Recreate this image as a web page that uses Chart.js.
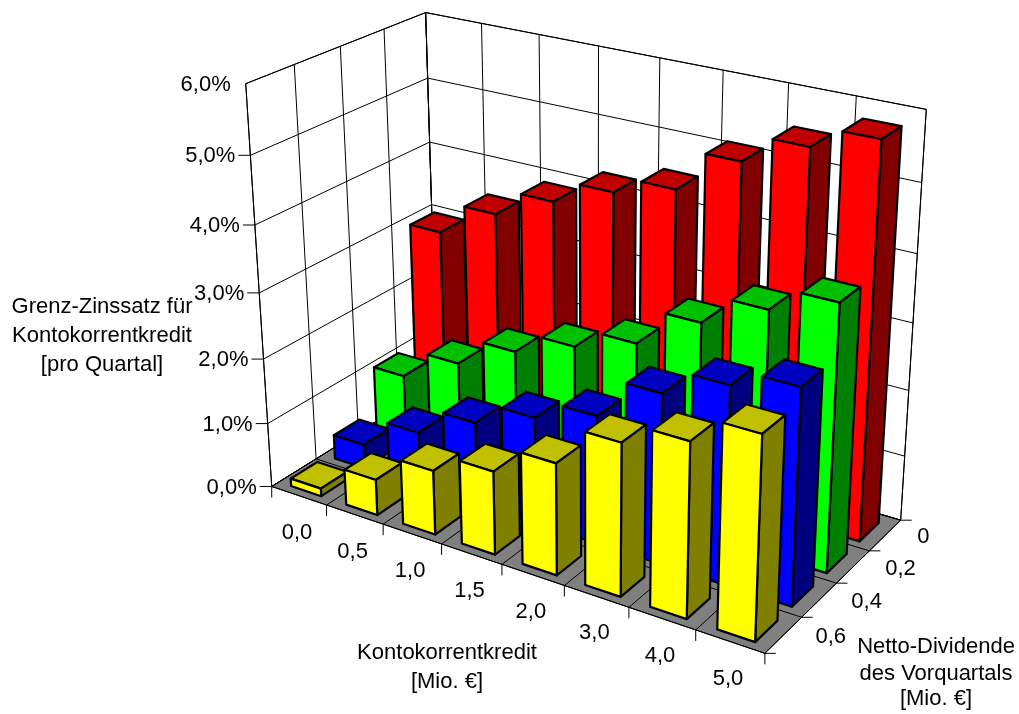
<!DOCTYPE html>
<html>
<head>
<meta charset="utf-8">
<title>Grenz-Zinssatz</title>
<script src="https://cdn.jsdelivr.net/npm/chart.js@4/dist/chart.umd.js"></script>
<style>
  html, body { margin: 0; padding: 0; background: #fff; }
  canvas { display: block; }
</style>
</head>
<body>
<canvas id="rateChart" width="1019" height="714"></canvas>
<script>
// Axis categories
const creditLabels = ['0,0', '0,5', '1,0', '1,5', '2,0', '3,0', '4,0', '5,0'];
const dividendLabels = ['0', '0,2', '0,4', '0,6'];
const rateTicks = [0, 1, 2, 3, 4, 5, 6];

// Marginal rate in percent, one row per dividend level
const rateDividend06 = [0.12, 0.55, 0.98, 1.26, 1.67, 2.25, 2.55, 2.93];
const rateDividend04 = [0.38, 0.85, 1.28, 1.63, 1.93, 2.53, 2.91, 3.15];
const rateDividend02 = [1.07, 1.53, 1.97, 2.3, 2.6, 3.15, 3.58, 3.92];
const rateDividend00 = [3.0, 3.5, 3.9, 4.25, 4.5, 5.1, 5.5, 5.8];

// Axis captions
const rateTitle = ['Grenz-Zinssatz für', 'Kontokorrentkredit', '[pro Quartal]'];
const creditTitle = ['Kontokorrentkredit', '[Mio. €]'];
const dividendTitle = ['Netto-Dividende', 'des Vorquartals', '[Mio. €]'];

// Camera: where known points of the unit box (u, v, w) land on the canvas
const cameraPoints = [
  [0, 0, 0, 271.7, 486], [1, 0, 0, 761, 653], [1, 1, 0, 900, 520.7],
  [0, 0, 1, 245.7, 84.3], [0, 1, 1, 425.7, 11.7], [1, 1, 1, 926, 109.3],
  [0, 1, 0.5, 432, 205], [0, 0, 0.5, 259.3, 293.3],
  [0.125, 0, 0, 326, 505], [1, 0.25, 0, 808, 617], [1, 0.75, 0, 868, 551]
];

// Least squares for the 3x4 projection matrix (last entry fixed to 1)
function solveCamera(points) {
  const n = 11;
  const A = Array.from({ length: n }, () => new Array(n + 1).fill(0));
  const addRow = (row, rhs) => {
    for (let i = 0; i < n; i++) {
      for (let j = 0; j < n; j++) A[i][j] += row[i] * row[j];
      A[i][n] += row[i] * rhs;
    }
  };
  points.forEach(([u, v, w, x, y]) => {
    addRow([u, v, w, 1, 0, 0, 0, 0, -x * u, -x * v, -x * w], x);
    addRow([0, 0, 0, 0, u, v, w, 1, -y * u, -y * v, -y * w], y);
  });
  for (let c = 0; c < n; c++) {
    let best = c;
    for (let r = c + 1; r < n; r++) if (Math.abs(A[r][c]) > Math.abs(A[best][c])) best = r;
    [A[c], A[best]] = [A[best], A[c]];
    for (let r = 0; r < n; r++) {
      if (r === c) continue;
      const f = A[r][c] / A[c][c];
      for (let k = c; k <= n; k++) A[r][k] -= f * A[c][k];
    }
  }
  return A.map((row, i) => row[n] / row[i]);
}
const cam = solveCamera(cameraPoints);

function project(u, v, w) {
  const d = cam[8] * u + cam[9] * v + cam[10] * w + 1;
  return [
    (cam[0] * u + cam[1] * v + cam[2] * w + cam[3]) / d,
    (cam[4] * u + cam[5] * v + cam[6] * w + cam[7]) / d
  ];
}

// Position along a horizontal category scale / the value scale, as 0..1
const fracX = (scale, value) => (scale.getPixelForValue(value) - scale.left) / scale.width;
const fracY = (scale, value) => (scale.bottom - scale.getPixelForValue(value)) / scale.height;

function polygon(ctx, pts, fill) {
  ctx.beginPath();
  pts.forEach((p, i) => (i ? ctx.lineTo(p[0], p[1]) : ctx.moveTo(p[0], p[1])));
  ctx.closePath();
  if (fill) {
    ctx.fillStyle = fill;
    ctx.fill();
  }
  ctx.stroke();
}

function segment(ctx, a, b) {
  ctx.beginPath();
  ctx.moveTo(a[0], a[1]);
  ctx.lineTo(b[0], b[1]);
  ctx.stroke();
}

// Bars as boxes: same scales and parsing as a bar chart, only the drawing differs
class Bar3dController extends Chart.BarController {
  draw() {
    const chart = this.chart;
    const { ctx } = chart;
    const ds = this.getDataset();
    const { x, y, depth } = chart.scales;
    const halfU = (fracX(x, 1) - fracX(x, 0)) * ds.barPercentage / 2;
    const depthStep = Math.abs(fracX(depth, 1) - fracX(depth, 0));
    const halfV = depthStep * ds.depthPercentage / 2;
    // boxes sit slightly in front of their cell centre
    const vc = fracX(depth, ds.depthLabel + 0.04);

    ctx.save();
    ctx.lineWidth = 2.2;
    ctx.lineJoin = 'round';
    ctx.strokeStyle = '#000';
    ds.data.forEach((value, i) => {
      const uc = fracX(x, i);
      const w = fracY(y, value);
      const u0 = uc - halfU, u1 = uc + halfU, v0 = vc - halfV, v1 = vc + halfV;
      polygon(ctx, [project(u0, v0, w), project(u1, v0, w), project(u1, v1, w), project(u0, v1, w)], ds.topColor);
      polygon(ctx, [project(u1, v0, 0), project(u1, v1, 0), project(u1, v1, w), project(u1, v0, w)], ds.sideColor);
      polygon(ctx, [project(u0, v0, 0), project(u1, v0, 0), project(u1, v0, w), project(u0, v0, w)], ds.backgroundColor);
    });
    ctx.restore();
  }
}
Bar3dController.id = 'bar3d';
Bar3dController.defaults = Chart.BarController.defaults;
Chart.register(Bar3dController);

// Walls, floor, grid and tick marks behind the boxes
const boxFramePlugin = {
  id: 'boxFrame',
  beforeDatasetsDraw(chart) {
    const { ctx } = chart;
    const { x, y, depth } = chart.scales;
    ctx.save();
    ctx.strokeStyle = '#000';
    ctx.lineWidth = 1;

    polygon(ctx, [project(0, 0, 0), project(0, 1, 0), project(0, 1, 1), project(0, 0, 1)], '#fff');
    polygon(ctx, [project(0, 1, 0), project(1, 1, 0), project(1, 1, 1), project(0, 1, 1)], '#fff');
    polygon(ctx, [project(0, 0, 0), project(1, 0, 0), project(1, 1, 0), project(0, 1, 0)], '#808080');

    // value grid around the two walls, with ticks on the left
    y.ticks.forEach((t) => {
      const w = fracY(y, t.value);
      segment(ctx, project(0, 0, w), project(0, 1, w));
      segment(ctx, project(0, 1, w), project(1, 1, w));
      if (t.value < y.max) {
        const p = project(0, 0, w);
        segment(ctx, p, [p[0] - 12, p[1]]);
      }
    });

    // credit divisions: up the back wall, over the floor, tick below the front edge
    for (let i = 0; i <= creditLabels.length; i++) {
      const u = fracX(x, i - 0.5);
      segment(ctx, project(u, 1, 1), project(u, 1, 0));
      segment(ctx, project(u, 1, 0), project(u, 0, 0));
      const p = project(u, 0, 0);
      segment(ctx, p, [p[0], p[1] + 11]);
    }

    // dividend divisions: up the left wall, over the floor, tick right of the side edge
    for (let i = 0; i <= dividendLabels.length; i++) {
      const v = fracX(depth, i - 0.5);
      segment(ctx, project(0, v, 1), project(0, v, 0));
      segment(ctx, project(0, v, 0), project(1, v, 0));
      const p = project(1, v, 0);
      segment(ctx, p, [p[0] + 11, p[1]]);
    }
    ctx.restore();
  },

  afterDraw(chart) {
    const { ctx } = chart;
    const { x, y, depth } = chart.scales;
    ctx.save();
    ctx.fillStyle = '#000';
    ctx.font = '22px "Liberation Sans", Arial, sans-serif';
    ctx.textBaseline = 'middle';

    ctx.textAlign = 'right';
    y.ticks.forEach((t) => {
      const p = project(0, 0, fracY(y, t.value));
      ctx.fillText(t.label, p[0] - 15, p[1] + 1);
    });

    ctx.textAlign = 'center';
    x.ticks.forEach((t, i) => {
      const p = project(fracX(x, i), 0, 0);
      ctx.fillText(t.label, p[0] - 2, p[1] + 37);
    });

    ctx.textAlign = 'left';
    depth.ticks.forEach((t, i) => {
      const p = project(1, fracX(depth, i), 0);
      ctx.fillText(t.label, p[0] + 32, p[1] + 2);
    });

    ctx.textAlign = 'center';
    const caption = (lines, cx, ys) => lines.forEach((line, i) => ctx.fillText(line, cx, ys[i]));
    caption(y.options.title.text, 102, [307, 336, 365]);
    caption(x.options.title.text, 447, [653, 682]);
    caption(depth.options.title.text, 936, [647, 674, 699]);
    ctx.restore();
  }
};

// One box row per dividend level, nearest row first so it paints last
const rows = [
  { data: rateDividend06, depthLabel: 3, backgroundColor: '#ffff00', topColor: '#c0c000', sideColor: '#808000' },
  { data: rateDividend04, depthLabel: 2, backgroundColor: '#0000ff', topColor: '#0000c0', sideColor: '#000080' },
  { data: rateDividend02, depthLabel: 1, backgroundColor: '#00ff00', topColor: '#00c000', sideColor: '#008000' },
  { data: rateDividend00, depthLabel: 0, backgroundColor: '#ff0000', topColor: '#c00000', sideColor: '#800000' }
];

const chart = new Chart(document.getElementById('rateChart'), {
  type: 'bar3d',
  data: {
    labels: creditLabels,
    datasets: rows.map((r) => ({ ...r, barPercentage: 0.55, depthPercentage: 0.6 }))
  },
  options: {
    responsive: false,
    animation: false,
    layout: { padding: 0 },
    plugins: { legend: { display: false }, tooltip: { enabled: false } },
    scales: {
      x: {
        type: 'category', offset: true, display: false,
        ticks: { autoSkip: false },
        title: { text: creditTitle }
      },
      depth: {
        type: 'category', axis: 'x', position: 'bottom', labels: dividendLabels,
        reverse: true, offset: true, display: false,
        ticks: { autoSkip: false },
        title: { text: dividendTitle }
      },
      y: {
        type: 'linear', min: rateTicks[0], max: rateTicks[rateTicks.length - 1], display: false,
        afterBuildTicks: (scale) => { scale.ticks = rateTicks.map((value) => ({ value })); },
        ticks: { callback: (value) => value.toFixed(1).replace('.', ',') + '%' },
        title: { text: rateTitle }
      }
    }
  },
  plugins: [boxFramePlugin]
});
</script>
</body>
</html>
